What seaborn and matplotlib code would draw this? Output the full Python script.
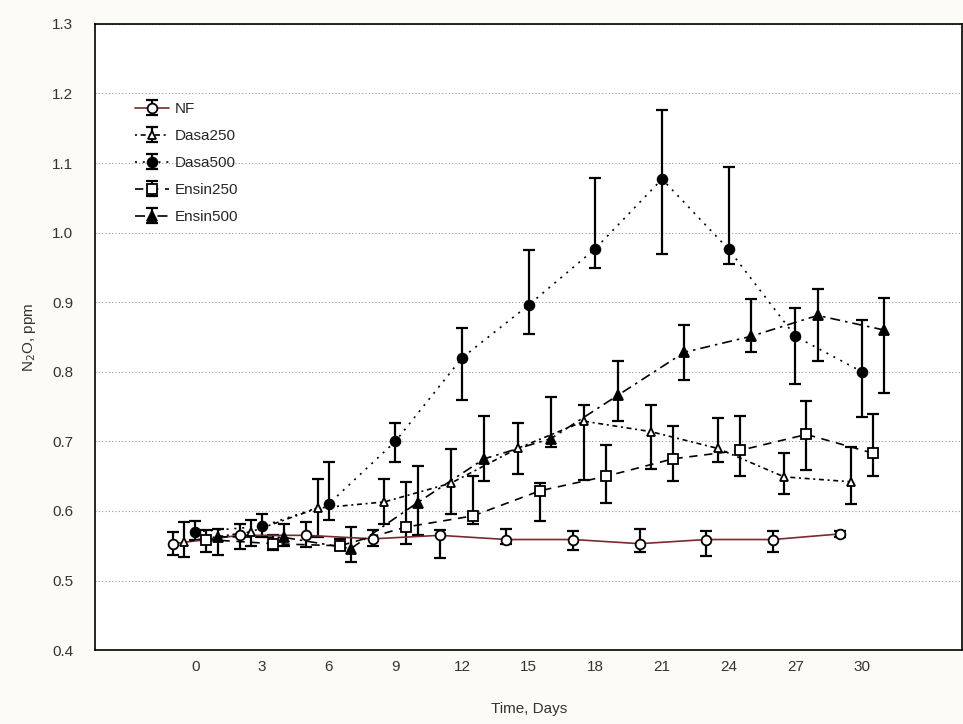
import numpy as np
import pandas as pd
import matplotlib
matplotlib.use('Agg')
import matplotlib.pyplot as plt
import seaborn as sns

# Data ###################################################################
days = [0, 3, 6, 9, 12, 15, 18, 21, 24, 27, 30]
groups = ['NF', 'Dasa250', 'Dasa500', 'Ensin250', 'Ensin500']
# small shift along x so the bars do not sit on top of each other
shift = {'NF': -1.0, 'Dasa250': -0.5, 'Dasa500': 0.0, 'Ensin250': 0.5, 'Ensin500': 1.0}

nf_mean = [0.553, 0.565, 0.565, 0.560, 0.565, 0.559, 0.559, 0.553, 0.559, 0.559, 0.567]
nf_hi = [0.570, 0.582, 0.584, 0.572, 0.573, 0.574, 0.571, 0.574, 0.571, 0.571, 0.571]
nf_lo = [0.537, 0.545, 0.548, 0.550, 0.532, 0.552, 0.544, 0.541, 0.536, 0.541, 0.562]

dasa250_mean = [0.556, 0.570, 0.604, 0.613, 0.640, 0.690, 0.729, 0.714, 0.690, 0.649, 0.642]
dasa250_hi = [0.584, 0.587, 0.646, 0.646, 0.689, 0.727, 0.752, 0.752, 0.733, 0.683, 0.692]
dasa250_lo = [0.534, 0.550, 0.563, 0.582, 0.596, 0.653, 0.645, 0.660, 0.670, 0.624, 0.610]

dasa500_mean = [0.570, 0.578, 0.610, 0.700, 0.820, 0.896, 0.977, 1.077, 0.976, 0.851, 0.800]
dasa500_hi = [0.585, 0.596, 0.671, 0.727, 0.863, 0.975, 1.078, 1.176, 1.094, 0.892, 0.874]
dasa500_lo = [0.558, 0.563, 0.587, 0.671, 0.759, 0.855, 0.949, 0.969, 0.955, 0.782, 0.735]

ensin250_mean = [0.559, 0.553, 0.550, 0.577, 0.593, 0.629, 0.650, 0.675, 0.687, 0.710, 0.683]
ensin250_hi = [0.572, 0.565, 0.560, 0.642, 0.650, 0.640, 0.695, 0.722, 0.736, 0.758, 0.739]
ensin250_lo = [0.541, 0.544, 0.544, 0.553, 0.581, 0.586, 0.612, 0.643, 0.650, 0.659, 0.650]

ensin500_mean = [0.563, 0.562, 0.546, 0.612, 0.675, 0.704, 0.766, 0.828, 0.851, 0.881, 0.860]
ensin500_hi = [0.574, 0.582, 0.577, 0.664, 0.736, 0.764, 0.815, 0.867, 0.905, 0.919, 0.906]
ensin500_lo = [0.537, 0.550, 0.527, 0.565, 0.643, 0.692, 0.730, 0.788, 0.829, 0.815, 0.769]

series = {
    'NF': (nf_mean, nf_hi, nf_lo),
    'Dasa250': (dasa250_mean, dasa250_hi, dasa250_lo),
    'Dasa500': (dasa500_mean, dasa500_hi, dasa500_lo),
    'Ensin250': (ensin250_mean, ensin250_hi, ensin250_lo),
    'Ensin500': (ensin500_mean, ensin500_hi, ensin500_lo),
}

# Styles #################################################################
line_col = {'NF': '#7a2a2a', 'Dasa250': 'black', 'Dasa500': 'black',
            'Ensin250': 'black', 'Ensin500': 'black'}
dash = {'NF': '', 'Dasa250': (1.2, 2.2, 3, 2.2), 'Dasa500': (1.2, 3.5),
        'Ensin250': (5, 4), 'Ensin500': (6, 3, 1.5, 3)}
marker = {'NF': 'o', 'Dasa250': '^', 'Dasa500': 'o', 'Ensin250': 's', 'Ensin500': '^'}
face = {'NF': 'white', 'Dasa250': 'white', 'Dasa500': 'black',
        'Ensin250': 'white', 'Ensin500': 'black'}
msize = {'NF': 7, 'Dasa250': 6, 'Dasa500': 7, 'Ensin250': 7.5, 'Ensin500': 6.5}

sns.set_theme(style='white')
plt.rcParams['font.family'] = ['Liberation Sans', 'DejaVu Sans']

fig = plt.figure(figsize=(9.63, 7.24), dpi=100, facecolor='#fcfbf5')
ax = fig.add_axes([0.099, 0.102, 0.900, 0.865])
ax.set_facecolor('white')

handles = []
for g in groups:
    m, hi, lo = [np.array(v) for v in series[g]]
    df = pd.DataFrame({'Time': np.array(days) + shift[g], 'N2O': m})
    eb = ax.errorbar(df['Time'], df['N2O'], yerr=[m - lo, hi - m], fmt='none',
                     ecolor='black', elinewidth=1.6, capsize=4, capthick=1.6, zorder=2)
    sns.lineplot(data=df, x='Time', y='N2O', ax=ax, color=line_col[g],
                 linewidth=1.2, dashes=False, zorder=3, legend=False)
    ln = ax.lines[-1]
    if dash[g]:
        ln.set_dashes(dash[g])
    ax.plot(df['Time'], df['N2O'], ls='none', marker=marker[g],
            markersize=msize[g], markerfacecolor=face[g],
            markeredgecolor='black', markeredgewidth=1.3, zorder=4)
    hl, = ax.plot([], [], color=line_col[g], lw=1.2, marker=marker[g],
                  markersize=msize[g], markerfacecolor=face[g],
                  markeredgecolor='black', markeredgewidth=1.3)
    if dash[g]:
        hl.set_dashes(dash[g])
    handles.append((eb, hl))

ax.set_xlim(-4.5, 34.5)
ax.set_ylim(0.4, 1.3)
ax.set_xticks(days)
ax.set_yticks(np.arange(0.4, 1.31, 0.1))
ax.set_yticklabels([f'{v:.1f}' for v in np.arange(0.4, 1.31, 0.1)])
ax.tick_params(axis='both', labelsize=11, colors='#333333', length=4, width=1,
               direction='out')
ax.tick_params(axis='y', pad=12)
ax.tick_params(axis='x', length=0, pad=7)
ax.grid(axis='y', color='#999999', linestyle=(0, (1, 2)), linewidth=0.8)
for s in ax.spines.values():
    s.set_color('black')
    s.set_linewidth(1.2)

ax.set_xlabel('Time, Days', fontsize=11, color='#333333', labelpad=20)
ax.set_ylabel('N$_2$O, ppm', fontsize=11, color='#333333', labelpad=10)

ax.legend(handles, groups, loc='upper left', bbox_to_anchor=(0.03, 0.897),
          frameon=False, fontsize=11, handlelength=2.2,
          labelspacing=0.85, handletextpad=0.4)

fig.savefig('out.png', dpi=100, facecolor=fig.get_facecolor())
